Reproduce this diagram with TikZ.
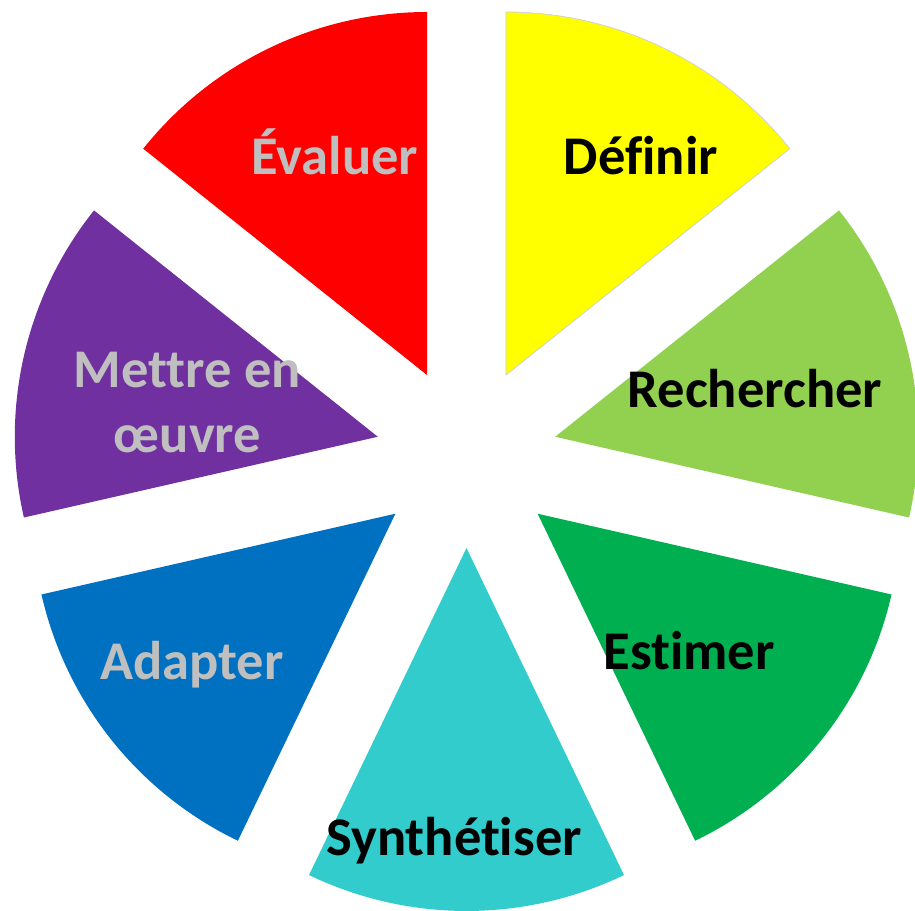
\documentclass[tikz,border=0pt]{standalone}
\usepackage{fontspec}
\setmainfont[Ligatures=NoCommon]{Carlito}
\usetikzlibrary{calc}
\definecolor{cyellow}{HTML}{FFFF00}
\definecolor{clgreen}{HTML}{92D050}
\definecolor{cgreen}{HTML}{00B050}
\definecolor{ccyan}{HTML}{33CCCC}
\definecolor{cblue}{HTML}{0070C0}
\definecolor{cpurple}{HTML}{7030A0}
\definecolor{cred}{HTML}{FF0000}
\definecolor{cgrey}{HTML}{BFBFBF}
\tikzset{
  lbl/.style={anchor=base, font=\fontsize{54.5}{66}\selectfont\bfseries, inner sep=0pt},
  darklbl/.style={lbl, text=black},
  lightlbl/.style={lbl, text=cgrey},
  sector/.style={line width=0.8pt},
}
\newcommand\drawsector[3]{%
  \pgfmathsetmacro{\midang}{(#1+#2)/2}%
  \filldraw[sector, #3] ($(C)+(\midang:91)$) -- ++(#1:363) arc[start angle=#1, end angle=#2, radius=363] -- cycle;%
}
\begin{document}
\begin{tikzpicture}[x=1pt,y=1pt]
\useasboundingbox (0,0) rectangle (915,910);
\clip (0,0) rectangle (915,910);
\coordinate (C) at (466.5,453);
\drawsector{38.571}{90}{fill=cyellow, draw=black!18}
\drawsector{-12.857}{38.571}{fill=clgreen, draw=none}
\drawsector{-64.286}{-12.857}{fill=cgreen, draw=none}
\drawsector{-115.714}{-64.286}{fill=ccyan, draw=none}
\drawsector{-167.143}{-115.714}{fill=cblue, draw=none}
\drawsector{-218.571}{-167.143}{fill=cpurple, draw=none}
\drawsector{90}{141.429}{fill=cred, draw=none}
\node[darklbl] (definir) at (641,735) {Définir};
\node[darklbl] (rechercher) at (755,502) {Rechercher};
\node[darklbl] (estimer) at (689,240) {Estimer};
\node[darklbl] (synth) at (454,55) {Synthétiser};
\node[lightlbl] (adapter) at (192,230) {Adapter};
\node[lightlbl] (mettre) at (187.5,522) {Mettre en};
\node[lightlbl] (oeuvre) at (187.5,457) {œuvre};
\node[lightlbl] (evaluer) at (335,735) {Évaluer};
\end{tikzpicture}
\end{document}
